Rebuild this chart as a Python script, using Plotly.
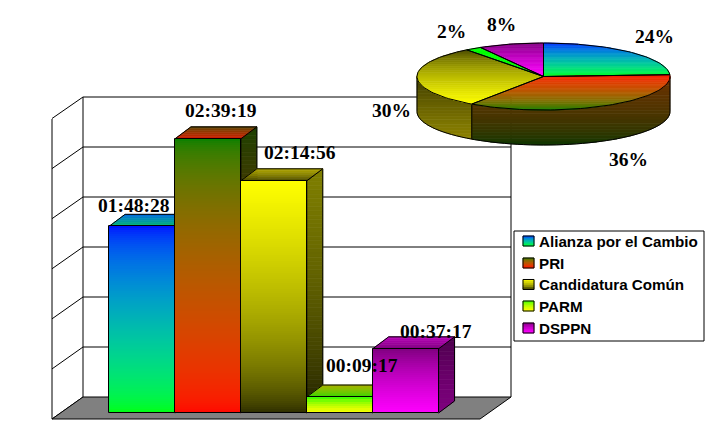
import math
import numpy as np
import plotly.graph_objects as go

categories = ["Alianza por el Cambio", "PRI", "Candidatura Común", "PARM", "DSPPN"]
durations = ["01:48:28", "02:39:19", "02:14:56", "00:09:17", "00:37:17"]
percents = [24, 36, 30, 2, 8]
axis_ticks = [0, 1800, 3600, 5400, 7200, 9000, 10800]
seconds = [sum(int(p) * m for p, m in zip(d.split(":"), (3600, 60, 1))) for d in durations]

W, H = 728, 446
UX, X0 = 65.9, 142.0      # px per category, px of first category
KY, Y0 = 0.02868, 413.0   # px per second, px of zero
DX, DY = 16.0, 12.0
def X(p): return (p - X0) / UX
def Y(p): return (Y0 - p) / KY

RX, RY, CX, CY, DEPTH = 126.5, 33.5, 543.5, 76.5, 35.0
P_L, P_R, P_T, P_B = 405.0, 682.0, 34.0, 155.0
def X2(p): return (p - CX) / RX
def Y2(p): return (CY - p) / RY

front_top = [(0, 0, 255), (0, 128, 0), (255, 255, 0), (0, 255, 0), (128, 0, 128)]
front_bot = [(0, 255, 0), (255, 0, 0), (45, 45, 0), (255, 255, 0), (255, 0, 255)]
side_top = [(0, 50, 130), (25, 65, 0), (128, 128, 0), (0, 128, 0), (75, 0, 75)]
side_bot = [(0, 128, 0), (128, 0, 0), (25, 25, 0), (128, 128, 0), (128, 0, 128)]
lid_back = [(0, 100, 225), (75, 70, 0), (180, 170, 0), (170, 175, 0), (185, 0, 185)]
lid_front = [(0, 180, 100), (205, 25, 0), (75, 75, 0), (50, 215, 0), (130, 0, 130)]
pie_top = [(0, 0, 255), (255, 0, 0), (70, 70, 0), (0, 255, 0), (128, 0, 128)]
pie_bot = [(0, 255, 0), (0, 128, 0), (255, 255, 0), (0, 255, 0), (255, 0, 255)]
rim_top = [(0, 100, 100), (110, 50, 0), (55, 55, 0), (0, 128, 0), (128, 0, 128)]
rim_bot = [(0, 60, 60), (10, 55, 0), (140, 130, 0), (0, 128, 0), (128, 0, 128)]


def rgb(c):
    return "rgb(%d,%d,%d)" % tuple(int(round(v)) for v in c)

def mix(a, b, t):
    return tuple(math.sqrt(a[i] ** 2 + (b[i] ** 2 - a[i] ** 2) * t) for i in range(3))

def clip(poly, y, keep_above):
    out = []
    inside = (lambda p: p[1] >= y) if keep_above else (lambda p: p[1] <= y)
    for i, p in enumerate(poly):
        q = poly[(i + 1) % len(poly)]
        if inside(p):
            out.append(p)
        if inside(p) != inside(q):
            t = (y - p[1]) / (q[1] - p[1])
            out.append((p[0] + (q[0] - p[0]) * t, y))
    return out

def path(poly):
    return "M " + " L ".join("%.5f,%.5f" % p for p in poly) + " Z"

def gradient(poly, c_top, c_bot, xref, yref, n, layer="below"):
    ys = [p[1] for p in poly]
    lo, hi = min(ys), max(ys)
    res = []
    for i in range(n):
        a = hi - (hi - lo) * i / n
        b = hi - (hi - lo) * (i + 1) / n
        part = clip(clip(poly, a, False), b, True)
        if len(part) < 3:
            continue
        c = rgb(mix(c_top, c_bot, (i + 0.5) / n))
        res.append(dict(type="path", path=path(part), xref=xref, yref=yref, layer=layer,
                        fillcolor=c, line=dict(color=c, width=0.7)))
    return res

def outline(poly, xref, yref, fill=None, width=1, layer="below"):
    return dict(type="path", path=path(poly), xref=xref, yref=yref, layer=layer,
                fillcolor=fill or "rgba(0,0,0,0)", line=dict(color="black", width=width))

def seg(x0, y0, x1, y1, layer="below"):
    return dict(type="line", x0=X(x0), y0=Y(y0), x1=X(x1), y1=Y(y1), xref="x", yref="y",
                layer=layer, line=dict(color="black", width=1))

shapes = []

# walls and floor, positioned from the axis ticks
WL, WR, WF = 83.0, 511.0, 397.0
WALL_K = 300.0 / axis_ticks[-1]
OX, OY = -31.0, 22.0
for t in axis_ticks:
    py = WF - t * WALL_K
    shapes.append(seg(WL + OX, py + OY - (t / axis_ticks[-1]) * 0.5, WL, py))
    if t:
        shapes.append(seg(WL, py, WR, py))
shapes.append(seg(WL, WF - axis_ticks[-1] * WALL_K, WL, WF))
shapes.append(seg(WR, WF - axis_ticks[-1] * WALL_K, WR, WF))
shapes.append(seg(WL + OX, WF - axis_ticks[-1] * WALL_K + OY, WL + OX, WF + OY))
shapes.append(outline([(X(WL), Y(WF)), (X(WR), Y(WF)), (X(WR + OX), Y(WF + OY)), (X(WL + OX), Y(WF + OY))],
                      "x", "y", fill="rgb(128,128,128)"))

# bar side and top faces
hw = 0.5
dx, dy = DX / UX, DY / KY
for i, v in enumerate(seconds):
    l, r = i - hw, i + hw
    side = [(r, v), (r + dx, v + dy), (r + dx, dy), (r, 0)]
    lid = [(l, v), (l + dx, v + dy), (r + dx, v + dy), (r, v)]
    shapes += gradient(side, side_top[i], side_bot[i], "x", "y", max(4, int(v * KY / 4)))
    shapes.append(outline(side, "x", "y"))
    shapes += gradient(lid, lid_back[i], lid_front[i], "x", "y", 6)
    shapes.append(outline(lid, "x", "y"))

# bar fronts: each category is one bar cut into thin coloured pieces
traces = []
for i, v in enumerate(seconds):
    n = max(4, int(v * KY / 2))
    edges = np.linspace(0, v, n + 1)
    cols = [rgb(mix(front_bot[i], front_top[i], (k + 0.5) / n)) for k in range(n)]
    traces.append(go.Bar(x=[i] * n, y=np.diff(edges), base=edges[:-1], width=1.0, name=categories[i],
                         marker=dict(color=cols, line=dict(width=0)), showlegend=False, hoverinfo="skip"))
traces.append(go.Bar(x=list(range(len(seconds))), y=seconds, width=1.0, showlegend=False, hoverinfo="skip",
                     marker=dict(color="rgba(0,0,0,0)", line=dict(color="black", width=1))))

# pie, an ellipse in x2/y2 units, drawn from the same durations
total = sum(seconds)
depth = DEPTH / RY
angle = 0.0
def pt(deg):
    return (math.sin(math.radians(deg)), math.cos(math.radians(deg)))
arcs = []
for i, v in enumerate(seconds):
    a0, a1 = angle, angle + 360.0 * v / total
    angle = a1
    arcs.append((a0, a1))
for i, (a0, a1) in enumerate(arcs):
    s0, s1 = max(a0, 90.0), min(a1, 270.0)
    if s1 > s0:
        deg = np.arange(s0, s1 + 0.01, 3.0).tolist()
        if deg[-1] < s1:
            deg.append(s1)
        upper = [pt(d) for d in deg]
        lower = [(x, y - depth) for x, y in reversed(upper)]
        poly = upper + lower
        shapes += gradient(poly, rim_top[i], rim_bot[i], "x2", "y2", 22)
        shapes.append(outline(poly, "x2", "y2"))
for i, (a0, a1) in enumerate(arcs):
    deg = np.arange(a0, a1 + 0.01, 2.0).tolist()
    if deg[-1] < a1:
        deg.append(a1)
    poly = [(0.0, 0.0)] + [pt(d) for d in deg]
    shapes += gradient(poly, pie_top[i], pie_bot[i], "x2", "y2", 26)
    xs = [p[0] for p in poly] + [0.0]
    ys = [p[1] for p in poly] + [0.0]
    traces.append(go.Scatter(x=xs, y=ys, xaxis="x2", yaxis="y2", mode="lines", name=categories[i],
                             line=dict(color="black", width=1), showlegend=False, hoverinfo="skip"))

# legend
BX0, BX1, BY0, BY1 = 514.0, 704.0, 231.0, 341.0
def PX(p): return p / W
def PY(p): return 1 - p / H
shapes.append(dict(type="rect", xref="paper", yref="paper", x0=PX(BX0), x1=PX(BX1), y0=PY(BY0), y1=PY(BY1),
                   fillcolor="white", line=dict(color="black", width=1), layer="above"))
rows = [241.0, 263.0, 284.5, 306.0, 328.0]
annotations = []
for i, c in enumerate(categories):
    box = [(PX(523), PY(rows[i] - 5)), (PX(534), PY(rows[i] - 5)), (PX(534), PY(rows[i] + 5)), (PX(523), PY(rows[i] + 5))]
    shapes += gradient(box, front_top[i], front_bot[i], "paper", "paper", 5, layer="above")
    shapes.append(outline(box, "paper", "paper", layer="above"))
    annotations.append(dict(text="<b>%s</b>" % c, x=PX(537), y=PY(rows[i]), xref="paper", yref="paper",
                            xanchor="left", yanchor="middle", showarrow=False,
                            font=dict(family="Liberation Sans", size=15.2, color="black")))

# bar labels
SERIF = dict(family="Liberation Serif", size=19.5, color="black")
nudges = [(-8, 21), (13, 28), (26, 28), (22, 32), (30, 17)]
for i, d in enumerate(durations):
    annotations.append(dict(text="<b>%s</b>" % d, x=i + nudges[i][0] / UX, y=seconds[i] + nudges[i][1] / KY,
                            xref="x", yref="y", xanchor="center", yanchor="middle", showarrow=False, font=SERIF))

# pie labels
pie_label_at = [(654, 36), (628, 160), (391, 111), (451, 32), (501, 24)]
for p, (lx, ly) in zip(percents, pie_label_at):
    annotations.append(dict(text="<b>%d%%</b>" % p, x=PX(lx), y=PY(ly), xref="paper", yref="paper",
                            xanchor="center", yanchor="middle", showarrow=False, font=SERIF))

hidden = dict(visible=False, showgrid=False, zeroline=False, fixedrange=True)
fig = go.Figure(traces)
fig.update_layout(
    width=W, height=H, margin=dict(l=0, r=0, t=0, b=0), autosize=False,
    paper_bgcolor="white", plot_bgcolor="rgba(0,0,0,0)",
    barmode="overlay", bargap=0, showlegend=False,
    shapes=shapes, annotations=annotations,
    xaxis=dict(range=[X(0), X(W)], domain=[0, 1], **hidden),
    yaxis=dict(range=[Y(H), Y(0)], domain=[0, 1], **hidden),
    xaxis2=dict(range=[X2(P_L), X2(P_R)], domain=[P_L / W, P_R / W], anchor="y2", **hidden),
    yaxis2=dict(range=[Y2(P_B), Y2(P_T)], domain=[1 - P_B / H, 1 - P_T / H], anchor="x2", **hidden),
)
fig.write_html("out.html", config=dict(displayModeBar=False),
               post_script="document.body.style.margin='0';")
